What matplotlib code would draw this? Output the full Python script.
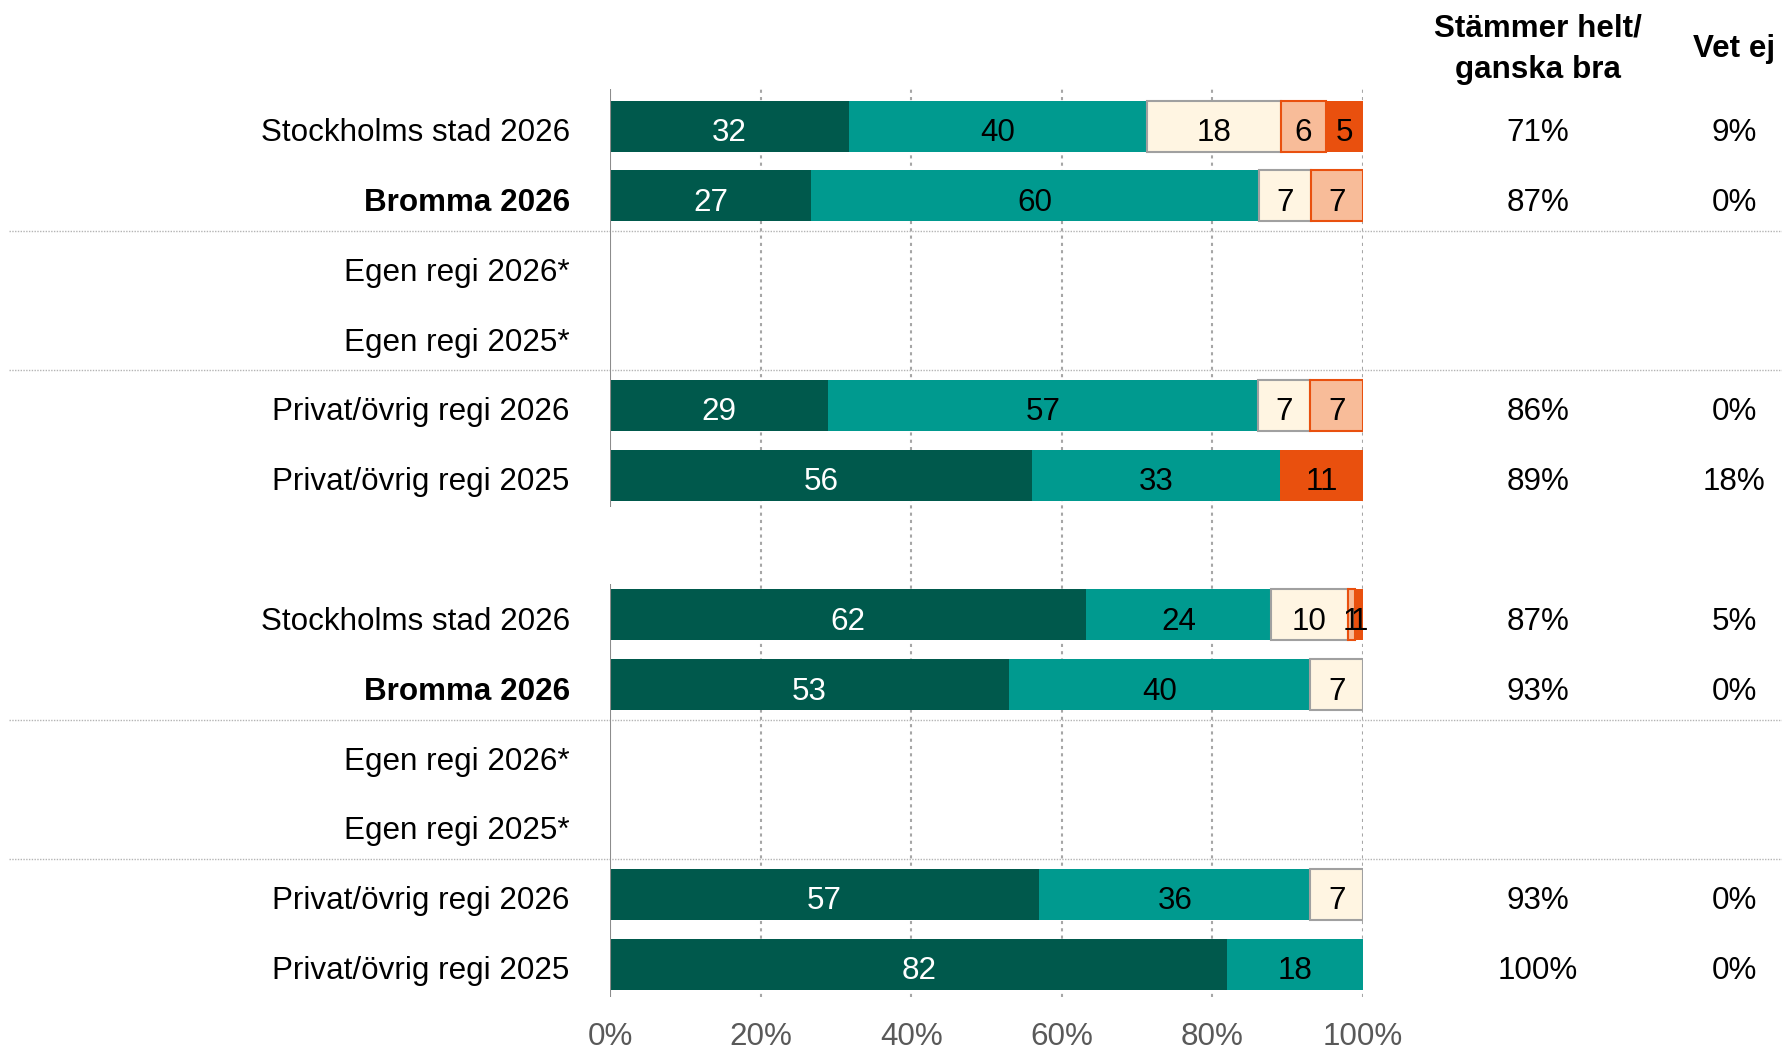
import numpy as np
import matplotlib.pyplot as plt
from matplotlib import transforms

plt.rcParams['font.family'] = ['Liberation Sans', 'DejaVu Sans']

rows = ['Stockholms stad 2026', 'Bromma 2026', 'Egen regi 2026*', 'Egen regi 2025*',
        'Privat/övrig regi 2026', 'Privat/övrig regi 2025',
        'Stockholms stad 2026', 'Bromma 2026', 'Egen regi 2026*', 'Egen regi 2025*',
        'Privat/övrig regi 2026', 'Privat/övrig regi 2025']
bold_rows = [1, 7]
ypos = [0, 1, 2, 3, 4, 5, 7, 8, 9, 10, 11, 12]

# answer shares per row (empty rows = no data)
helt = [32, 27, 0, 0, 29, 56, 62, 53, 0, 0, 57, 82]
ganska = [40, 60, 0, 0, 57, 33, 24, 40, 0, 0, 36, 18]
varken = [18, 7, 0, 0, 7, 0, 10, 7, 0, 0, 7, 0]
ganska_daligt = [6, 7, 0, 0, 7, 0, 1, 0, 0, 0, 0, 0]
inte_alls = [5, 0, 0, 0, 0, 11, 1, 0, 0, 0, 0, 0]

stammer = ['71%', '87%', '', '', '86%', '89%', '87%', '93%', '', '', '93%', '100%']
vet_ej = ['9%', '0%', '', '', '0%', '18%', '5%', '0%', '', '', '0%', '0%']

series = [helt, ganska, varken, ganska_daligt, inte_alls]
colors = ['#00594C', '#009A8F', '#FFF5E2', '#F8BC99', '#E9500E']
edges = [None, None, '#A0A0A0', '#E9500E', None]
txt_col = ['white', 'black', 'black', 'black', 'black']

fs = 22.6
fig = plt.figure(figsize=(17.82, 10.52), dpi=100)
ax = fig.add_axes([610 / 1782, 1 - 997 / 1052, 753 / 1782, 908 / 1052])
down = transforms.ScaledTranslation(0, -2.5 / 72, fig.dpi_scale_trans)

arr = np.array(series, dtype=float)
tot = arr.sum(axis=0)
tot[tot == 0] = 1
left = np.zeros(len(ypos))
for k, vals in enumerate(series):
    for i, v in enumerate(vals):
        if v <= 0:
            continue
        w = v / tot[i] * 100
        ax.barh(ypos[i], w, left=left[i], height=0.73, color=colors[k],
                edgecolor=edges[k] if edges[k] else colors[k],
                linewidth=1.5 if edges[k] else 0, zorder=3)
        ax.text(left[i] + w / 2, ypos[i], str(v), ha='center', va='center_baseline',
                color=txt_col[k], fontsize=fs, zorder=4, transform=ax.transData + down)
        left[i] += w

ax.set_xlim(0, 100)
ax.set_ylim(12.47, -0.53)
ax.set_xticks([0, 20, 40, 60, 80, 100], ['0%', '20%', '40%', '60%', '80%', '100%'])
ax.set_yticks(ypos, rows)
ax.tick_params(axis='x', length=0, pad=18, labelsize=fs, labelcolor='#595959')
ax.tick_params(axis='y', length=0, pad=29, labelsize=fs)
for i, lab in enumerate(ax.get_yticklabels()):
    lab.set_transform(lab.get_transform() + down)
    if i in bold_rows:
        lab.set_fontweight('bold')
for s in ax.spines.values():
    s.set_visible(False)

ax.grid(axis='x', linestyle=(0, (1.5, 2)), color='#A6A6A6', linewidth=1.5, zorder=0)
ax.get_xgridlines()[0].set_visible(False)
ax.set_axisbelow(True)

# axis line for each block
ax.vlines(0, -0.55, 5.45, color='#8C8C8C', linewidth=1.5, zorder=5)
ax.vlines(0, 6.55, 12.47, color='#8C8C8C', linewidth=1.5, zorder=5)

# separators across the whole figure
tr = transforms.blended_transform_factory(fig.transFigure, ax.transData)
for yy in [1.5, 3.5, 8.5, 10.5]:
    ax.plot([0.005, 1.0], [yy, yy], transform=tr, color='#B4B4B4',
            linewidth=1.0, linestyle=(0, (1, 1)), clip_on=False, zorder=1)

# summary columns
fig.text(1538 / 1782, 1 - 49 / 1052, 'Stämmer helt/\nganska bra', ha='center', va='center',
         fontsize=fs, fontweight='bold', linespacing=1.5)
fig.text(1734 / 1782, 1 - 49 / 1052, 'Vet ej', ha='center', va='center',
         fontsize=fs, fontweight='bold')
for i, y in enumerate(ypos):
    ax.text(1538 / 1782, y, stammer[i], transform=tr + down, ha='center',
            va='center_baseline', fontsize=fs)
    ax.text(1734 / 1782, y, vet_ej[i], transform=tr + down, ha='center',
            va='center_baseline', fontsize=fs)

fig.savefig('out.png', dpi=100)
